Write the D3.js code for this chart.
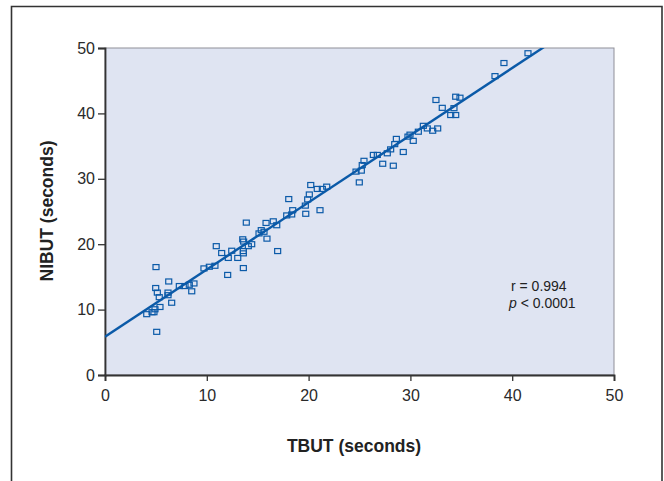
<!DOCTYPE html>
<html>
<head>
<meta charset="utf-8">
<script src="https://cdn.jsdelivr.net/npm/d3@7"></script>
<style>
  html, body { margin: 0; padding: 0; background: #fff; }
  svg { display: block; font-family: "Liberation Sans", Arial, sans-serif; }
</style>
</head>
<body>
<div id="chart"></div>
<script>
// TBUT vs NIBUT scatter with fitted regression line

const tbut = [
  5.01, 5.08, 4.98, 6.26, 5.14, 5.33, 6.19, 6.19, 6.55, 5.4,
  4.91, 4.81, 4.1, 4.62, 7.3, 7.86, 8.28, 8.74, 8.52, 9.72,
  10.25, 10.8, 10.93, 11.46, 12.45, 12.11, 13.04, 12.05, 13.59, 13.59,
  13.59, 13.53, 13.62, 14.41, 14.08, 13.88, 15.13, 15.35, 15.62, 15.91,
  15.82, 16.53, 16.87, 16.96, 17.85, 18.34, 18.44, 18.05, 19.72, 19.68,
  19.91, 20.07, 20.21, 20.85, 21.35, 21.78, 21.12, 24.98, 24.66, 25.18,
  25.27, 25.44, 26.36, 26.75, 27.28, 27.73, 28.06, 28.32, 28.46, 28.62,
  29.3, 29.76, 29.96, 30.28, 30.78, 31.27, 31.66, 32.19, 32.68, 32.51,
  33.13, 34.45, 34.87, 34.28, 33.96, 34.45, 38.31, 39.19, 41.55
];
const nibut = [
  16.5, 6.6, 13.3, 14.3, 12.6, 11.9, 12.6, 12.2, 11.05, 10.4,
  10.05, 9.6, 9.3, 9.6, 13.6, 13.6, 13.8, 14.0, 12.8, 16.3,
  16.55, 16.7, 19.7, 18.65, 19.0, 17.9, 17.9, 15.3, 16.35, 18.95,
  18.6, 20.75, 20.4, 20.0, 19.7, 23.3, 21.65, 22.15, 21.9, 20.85,
  23.25, 23.5, 22.9, 18.95, 24.4, 24.55, 25.2, 26.9, 24.65, 25.9,
  26.85, 27.6, 29.05, 28.45, 28.45, 28.8, 25.2, 29.45, 31.1, 31.25,
  32.1, 32.75, 33.65, 33.65, 32.3, 33.9, 34.5, 32.0, 35.3, 36.1,
  34.1, 36.45, 36.75, 35.8, 37.2, 38.1, 37.7, 37.35, 37.7, 42.05,
  40.85, 42.55, 42.4, 40.8, 39.75, 39.75, 45.7, 47.7, 49.2
];

// regression line
const fitIntercept = 5.86;
const fitSlope = 1.027;

const xTicks = [0, 10, 20, 30, 40, 50];
const yTicks = [0, 10, 20, 30, 40, 50];
const statLines = ["r = 0.994", "p < 0.0001"];

const W = 664, H = 481;
const margin = { left: 105, top: 48, right: 50, bottom: 106 };
const plotW = W - margin.left - margin.right;
const plotH = H - margin.top - margin.bottom;

const BLUE = "#0b5aa8";
const TICK_FONT = "'Liberation Sans Narrow', 'Arial Narrow', 'Liberation Sans', Arial, sans-serif";

const svg = d3.select("#chart").append("svg")
  .attr("width", W)
  .attr("height", H);

// outer frame (open at the bottom)
svg.append("path")
  .attr("d", `M11.5,${H} V6.5 H662 V${H}`)
  .attr("fill", "none")
  .attr("stroke", "#333")
  .attr("stroke-width", 1.6);

const x = d3.scaleLinear().domain([0, 50]).range([0, plotW]);
const y = d3.scaleLinear().domain([0, 50]).range([plotH, 0]);

const g = svg.append("g").attr("transform", `translate(${margin.left},${margin.top})`);

g.append("rect")
  .attr("width", plotW)
  .attr("height", plotH)
  .attr("fill", "#dfe4f2")
  .attr("stroke", "#8f8f98")
  .attr("stroke-width", 1);

g.append("clipPath").attr("id", "clip")
  .append("rect").attr("width", plotW).attr("height", plotH);

// axes
const xAxis = g.append("g")
  .attr("transform", `translate(0,${plotH})`)
  .call(d3.axisBottom(x).tickValues(xTicks).tickSize(6).tickPadding(9));
const yAxis = g.append("g")
  .call(d3.axisLeft(y).tickValues(yTicks).tickSize(7).tickPadding(3));

[xAxis, yAxis].forEach(a => {
  a.select(".domain").attr("stroke", "#333").attr("stroke-width", 1.8);
  a.selectAll(".tick line").attr("stroke", "#333").attr("stroke-width", 1.3);
  a.selectAll(".tick text")
    .attr("fill", "#2a2a2a")
    .attr("font-size", 16)
    .attr("font-family", TICK_FONT);
});

// regression line
g.append("line")
  .attr("clip-path", "url(#clip)")
  .attr("x1", x(0))
  .attr("y1", y(fitIntercept))
  .attr("x2", x(50))
  .attr("y2", y(fitIntercept + fitSlope * 50))
  .attr("stroke", BLUE)
  .attr("stroke-width", 2.4);

// points
const pts = tbut.map((t, i) => ({ t, n: nibut[i] }));
g.selectAll("rect.pt")
  .data(pts)
  .enter()
  .append("rect")
  .attr("class", "pt")
  .attr("x", d => x(d.t) - 3)
  .attr("y", d => y(d.n) - 2.5)
  .attr("width", 6)
  .attr("height", 5)
  .attr("fill", "none")
  .attr("stroke", BLUE)
  .attr("stroke-width", 1.2);

// stats text
const st = g.append("text")
  .attr("font-size", 14)
  .attr("fill", "#222");
st.append("tspan").attr("x", 406).attr("y", 243).text(statLines[0]);
const l2 = st.append("tspan").attr("x", 404).attr("y", 260);
l2.append("tspan").attr("font-style", "italic").text(statLines[1].slice(0, 1));
l2.append("tspan").text(statLines[1].slice(1));

// axis titles
svg.append("text")
  .attr("x", 354)
  .attr("y", 452)
  .attr("text-anchor", "middle")
  .attr("font-size", 17.5)
  .attr("font-weight", "bold")
  .attr("fill", "#222")
  .text("TBUT (seconds)");

svg.append("text")
  .attr("transform", "translate(53,211) rotate(-90)")
  .attr("text-anchor", "middle")
  .attr("font-size", 17.5)
  .attr("font-weight", "bold")
  .attr("fill", "#222")
  .text("NIBUT (seconds)");
</script>
</body>
</html>
